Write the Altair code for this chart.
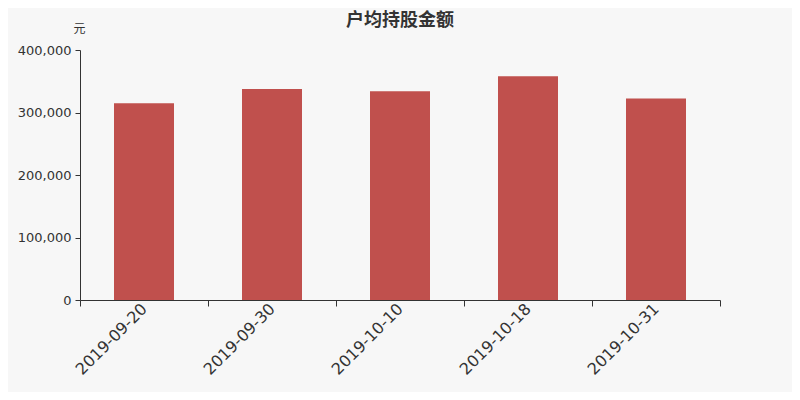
import altair as alt
import pandas as pd

dates = ["2019-09-20", "2019-09-30", "2019-10-10", "2019-10-18", "2019-10-31"]
values = [314700, 337600, 334000, 358000, 322500]

df = pd.DataFrame({"date": dates, "value": values})

chart = alt.Chart(df).mark_bar(color="#c0504d", width=alt.RelativeBandSize(0.46875)).encode(
    x=alt.X("date:N", sort=None, title=None,
            scale=alt.Scale(paddingInner=0, paddingOuter=0),
            axis=alt.Axis(labelAngle=-45, labelFontSize=16, labelColor="#333333",
                          labelFont="DejaVu Sans", domainColor="#333333", tickColor="#333333",
                          tickBand="extent", tickSize=6, labelPadding=0,
                          labelAlign="right", labelBaseline="middle")),
    y=alt.Y("value:Q", title="元",
            scale=alt.Scale(domain=[0, 400000]),
            axis=alt.Axis(values=[0, 100000, 200000, 300000, 400000], format=",.0f",
                          grid=False, labelFontSize=13, labelColor="#333333",
                          labelFont="DejaVu Sans", domainColor="#333333", tickColor="#333333",
                          tickSize=5, labelPadding=4,
                          titleAngle=0, titleX=-1, titleY=-15, titleAlign="center",
                          titleFontWeight="normal", titleFontSize=12, titleColor="#333333",
                          titleFont="Noto Sans CJK SC")),
).properties(
    width=640, height=250,
    title=alt.TitleParams("户均持股金额", fontSize=18, fontWeight="bold", color="#333333",
                          font="Noto Sans CJK SC", offset=-8, anchor="middle"),
    autosize=alt.AutoSizeParams(type="none"),
    padding={"left": 72, "top": 42, "right": 72, "bottom": 92},
    background="#f7f7f7",
).configure_view(stroke=None)

chart.save("out.html", embed_options={"renderer": "svg", "actions": False})
